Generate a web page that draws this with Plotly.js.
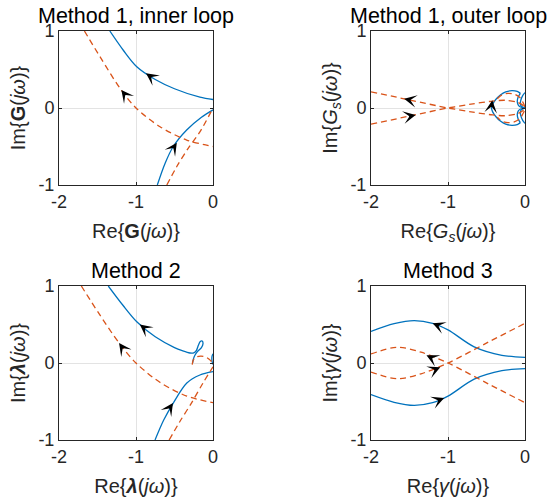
<!DOCTYPE html>
<html>
<head>
<meta charset="utf-8">
<script src="https://cdn.plot.ly/plotly-3.0.1.min.js"></script>
<style>html,body{margin:0;padding:0;background:#fff;}#chart{width:548px;height:503px;}</style>
</head>
<body>
<div id="chart"></div>
<script>
// ---------- tick labels ----------
const xTickVals = [-2, -1, 0];
const xTickText = ['-2', '-1', '0'];
const yTickVals = [-1, 0, 1];
const yTickText = ['-1', '0', '1'];

// ---------- titles ----------
const panelTitles = ['Method 1, inner loop', 'Method 1, outer loop', 'Method 2', 'Method 3'];
const xTitles = ['Re{<b>G</b>(<i>jω</i>)}', 'Re{<i>G<sub>s</sub></i>(<i>jω</i>)}', 'Re{<b><i>λ</i></b>(<i>jω</i>)}', 'Re{<i>γ</i>(<i>jω</i>)}'];
const yTitles = ['Im{<b>G</b>(<i>jω</i>)}', 'Im{<i>G<sub>s</sub></i>(<i>jω</i>)}', 'Im{<b><i>λ</i></b>(<i>jω</i>)}', 'Im{<i>γ</i>(<i>jω</i>)}'];

// ---------- Panel 1: Method 1, inner loop ----------
const p1BlueAx = [-1.34, -1.165, -0.99, -0.75, -0.5, -0.17, 0];
const p1BlueAy = [1.0, 0.75, 0.536, 0.37, 0.25, 0.14, 0.11];
const p1BlueBx = [-0.723, -0.623, -0.516, -0.342, -0.15, 0];
const p1BlueBy = [-1.0, -0.72, -0.5, -0.286, -0.12, -0.025];
const p1OrangeAx = [-1.67, -1.468, -1.208, -1.0, -0.688, -0.342, 0];
const p1OrangeAy = [1.0, 0.667, 0.256, 0.0, -0.243, -0.416, -0.5];
const p1OrangeBx = [-0.6, -0.47, -0.32, -0.17, 0];
const p1OrangeBy = [-1.0, -0.76, -0.52, -0.31, 0.0];
// arrows: tip and tail points on the curves
const p1ArrowTipX = [-0.87, -1.19, -0.47, -0.45];
const p1ArrowTipY = [0.45, 0.235, -0.45, -0.69];
const p1ArrowTailX = [-0.8, -1.14, -0.51, -0.48];
const p1ArrowTailY = [0.40, 0.17, -0.51, -0.745];

// ---------- Panel 2: Method 1, outer loop ----------
const p2OrangeAx = [-2, -1.5, -1.0, -0.7, -0.42, -0.25, -0.1, -0.02, 0];
const p2OrangeAy = [0.21, 0.105, 0.0, -0.05, -0.09, -0.1, -0.075, -0.03, 0];
const p2OrangeBx = [-2, -1.5, -1.0, -0.7, -0.42, -0.25, -0.1, -0.02, 0];
const p2OrangeBy = [-0.21, -0.105, 0.0, 0.05, 0.09, 0.1, 0.075, 0.03, 0];
const p2OrangeCx = [-0.36, -0.3, -0.22, -0.14, -0.07, -0.03, 0, -0.03, -0.07, -0.14, -0.22, -0.3, -0.36];
const p2OrangeCy = [0.12, 0.17, 0.19, 0.18, 0.14, 0.08, 0, -0.08, -0.14, -0.18, -0.19, -0.17, -0.12];
const p2BlueAx = [-0.06, -0.1, -0.17, -0.25, -0.32, -0.38, -0.42, -0.435, -0.42, -0.38, -0.32, -0.25, -0.17, -0.1, -0.06];
const p2BlueAy = [0.19, 0.215, 0.225, 0.21, 0.17, 0.11, 0.05, 0, -0.05, -0.11, -0.17, -0.21, -0.225, -0.215, -0.19];
const p2BlueBx = [-0.06, -0.09, -0.1, -0.085, -0.05, 0, -0.05, -0.085, -0.1, -0.09, -0.06];
const p2BlueBy = [0.19, 0.14, 0.08, 0.035, 0.01, 0.0, -0.01, -0.035, -0.08, -0.14, -0.19];
const p2BlueCx = [0, -0.03, -0.055, -0.06, -0.045, 0, -0.045, -0.06, -0.055, -0.03, 0];
const p2BlueCy = [0.2, 0.16, 0.1, 0.05, 0.02, 0, -0.02, -0.05, -0.1, -0.16, -0.2];
const p2ArrowTipX = [-0.425, -1.57, -1.42];
const p2ArrowTipY = [0.1, 0.12, -0.09];
const p2ArrowTailX = [-0.435, -1.48, -1.52];
const p2ArrowTailY = [0.02, 0.101, -0.111];

// ---------- Panel 3: Method 2 ----------
const p3BlueAx = [-1.36, -1.17, -0.99, -0.75, -0.5, -0.4, -0.3, -0.25, -0.215, -0.19, -0.165, -0.14, -0.13, -0.15, -0.2, -0.235, -0.255, -0.265];
const p3BlueAy = [1.0, 0.75, 0.536, 0.34, 0.2, 0.16, 0.13, 0.132, 0.165, 0.23, 0.28, 0.285, 0.25, 0.2, 0.15, 0.1, 0.05, 0.0];
const p3BlueBx = [0, -0.012, -0.015, -0.01, 0];
const p3BlueBy = [0.12, 0.09, 0.05, 0.01, -0.02];
const p3BlueCx = [-0.753, -0.64, -0.516, -0.34, -0.17, 0];
const p3BlueCy = [-1.0, -0.74, -0.52, -0.26, -0.156, -0.113];
const p3OrangeAx = [-1.71, -1.48, -1.22, -1.0, -0.69, -0.34, 0];
const p3OrangeAy = [1.0, 0.64, 0.26, 0.0, -0.25, -0.43, -0.515];
const p3OrangeBx = [-0.57, -0.43, -0.28, -0.13, 0];
const p3OrangeBy = [-1.0, -0.76, -0.52, -0.26, -0.05];
const p3OrangeCx = [-0.27, -0.255, -0.22, -0.16, -0.1, -0.05, -0.02, 0];
const p3OrangeCy = [-0.02, 0.04, 0.075, 0.09, 0.08, 0.05, 0.02, 0.0];
const p3ArrowTipX = [-0.95, -1.22, -0.52, -0.43];
const p3ArrowTipY = [0.5, 0.26, -0.52, -0.73];
const p3ArrowTailX = [-0.88, -1.17, -0.56, -0.46];
const p3ArrowTailY = [0.445, 0.19, -0.58, -0.785];

// ---------- Panel 4: Method 3 ----------
const p4BlueAx = [-2, -1.7, -1.44, -1.2, -1.0, -0.66, -0.3, 0];
const p4BlueAy = [0.41, 0.51, 0.55, 0.515, 0.43, 0.21, 0.1, 0.074];
const p4BlueBx = [-2, -1.7, -1.44, -1.2, -1.0, -0.66, -0.3, 0];
const p4BlueBy = [-0.41, -0.51, -0.55, -0.515, -0.43, -0.21, -0.1, -0.074];
const p4OrangeAx = [-2, -1.66, -1.35, -1.0, -0.49, 0];
const p4OrangeAy = [0.117, 0.204, 0.14, 0.0, -0.264, -0.515];
const p4OrangeBx = [-2, -1.66, -1.35, -1.0, -0.49, 0];
const p4OrangeBy = [-0.117, -0.204, -0.14, 0.0, 0.264, 0.515];
const p4ArrowTipX = [-1.2, -1.28, -1.1, -1.05];
const p4ArrowTipY = [0.515, 0.1, -0.055, -0.455];
const p4ArrowTailX = [-1.1, -1.2, -1.18, -1.15];
const p4ArrowTailY = [0.475, 0.06, -0.09, -0.495];

// ---------- build ----------
const BLUE = '#0072BD', ORANGE = '#D95319', INK = '#262626';
const traces = [];
function line(x, y, k, color, dashed) {
  const s = k === 1 ? '' : String(k);
  traces.push({
    x: x, y: y, xaxis: 'x' + s, yaxis: 'y' + s, type: 'scatter', mode: 'lines',
    line: {color: color, width: 1.3, shape: 'spline', smoothing: 0.9, dash: dashed ? '6px,4px' : 'solid'},
    hoverinfo: 'skip', showlegend: false
  });
}
line(p1BlueAx, p1BlueAy, 1, BLUE, false);
line(p1BlueBx, p1BlueBy, 1, BLUE, false);
line(p1OrangeAx, p1OrangeAy, 1, ORANGE, true);
line(p1OrangeBx, p1OrangeBy, 1, ORANGE, true);

line(p2BlueAx, p2BlueAy, 2, BLUE, false);
line(p2BlueBx, p2BlueBy, 2, BLUE, false);
line(p2BlueCx, p2BlueCy, 2, BLUE, false);
line(p2OrangeAx, p2OrangeAy, 2, ORANGE, true);
line(p2OrangeBx, p2OrangeBy, 2, ORANGE, true);
line(p2OrangeCx, p2OrangeCy, 2, ORANGE, true);

line(p3BlueAx, p3BlueAy, 3, BLUE, false);
line(p3BlueBx, p3BlueBy, 3, BLUE, false);
line(p3BlueCx, p3BlueCy, 3, BLUE, false);
line(p3OrangeAx, p3OrangeAy, 3, ORANGE, true);
line(p3OrangeBx, p3OrangeBy, 3, ORANGE, true);
line(p3OrangeCx, p3OrangeCy, 3, ORANGE, true);

line(p4BlueAx, p4BlueAy, 4, BLUE, false);
line(p4BlueBx, p4BlueBy, 4, BLUE, false);
line(p4OrangeAx, p4OrangeAy, 4, ORANGE, true);
line(p4OrangeBx, p4OrangeBy, 4, ORANGE, true);

const annotations = [];
function arrows(tx, ty, ax, ay, k) {
  const s = k === 1 ? '' : String(k);
  for (let i = 0; i < tx.length; i++) {
    annotations.push({
      xref: 'x' + s, yref: 'y' + s, axref: 'x' + s, ayref: 'y' + s,
      x: tx[i], y: ty[i], ax: ax[i], ay: ay[i], text: '',
      showarrow: true, arrowhead: 3, arrowsize: 2.1, arrowwidth: 1, arrowcolor: '#000'
    });
  }
}
arrows(p1ArrowTipX, p1ArrowTipY, p1ArrowTailX, p1ArrowTailY, 1);
arrows(p2ArrowTipX, p2ArrowTipY, p2ArrowTailX, p2ArrowTailY, 2);
arrows(p3ArrowTipX, p3ArrowTipY, p3ArrowTailX, p3ArrowTailY, 3);
arrows(p4ArrowTipX, p4ArrowTipY, p4ArrowTailX, p4ArrowTailY, 4);

const W = 548, H = 503;
const xDomL = [59 / W, 213 / W], xDomR = [371 / W, 525 / W];
const yDomT = [1 - 185 / H, 1 - 31 / H], yDomB = [1 - 440 / H, 1 - 286 / H];
const doms = [[xDomL, yDomT], [xDomR, yDomT], [xDomL, yDomB], [xDomR, yDomB]];

const FONT = 'Liberation Sans, Arial, Helvetica, sans-serif';
const layout = {
  width: W, height: H, margin: {l: 0, r: 0, t: 0, b: 0},
  paper_bgcolor: '#fff', plot_bgcolor: '#fff', showlegend: false,
  font: {family: FONT, color: INK},
  annotations: annotations
};
function axisCommon() {
  return {
    showgrid: true, gridcolor: '#e3e3e3', gridwidth: 1, zeroline: false,
    showline: true, linecolor: INK, linewidth: 1, mirror: 'ticks',
    ticks: 'inside', ticklen: 3, tickcolor: INK, tickfont: {family: FONT, size: 18, color: INK},
    fixedrange: true
  };
}
for (let k = 0; k < 4; k++) {
  const s = k === 0 ? '' : String(k + 1);
  layout['xaxis' + s] = Object.assign(axisCommon(), {
    domain: doms[k][0], anchor: 'y' + s, range: [-2, 0],
    tickmode: 'array', tickvals: xTickVals, ticktext: xTickText,
    title: {text: xTitles[k], font: {family: FONT, size: 20, color: INK}, standoff: 13}
  });
  layout['yaxis' + s] = Object.assign(axisCommon(), {
    domain: doms[k][1], anchor: 'x' + s, range: [-1, 1],
    tickmode: 'array', tickvals: yTickVals, ticktext: yTickText,
    title: {text: yTitles[k], font: {family: FONT, size: 20, color: INK}, standoff: 7}
  });
  annotations.push({
    xref: 'paper', yref: 'paper', x: (doms[k][0][0] + doms[k][0][1]) / 2, y: doms[k][1][1],
    xanchor: 'center', yanchor: 'bottom', yshift: 1, showarrow: false,
    text: panelTitles[k], font: {family: FONT, size: 21.5, color: '#000'}
  });
}

Plotly.newPlot('chart', traces, layout, {staticPlot: true, displayModeBar: false});
</script>
</body>
</html>
